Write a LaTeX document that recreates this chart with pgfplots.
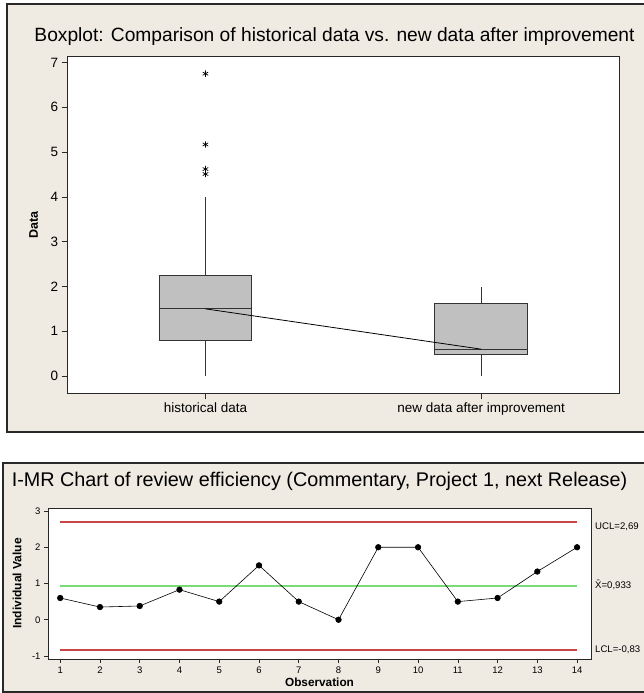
\documentclass[border=0pt]{standalone}
\usepackage{fontspec}
\setmainfont{Liberation Sans}
\usepackage{pgfplots}
\pgfplotsset{compat=1.18}
\usepgfplotslibrary{statistics}
\definecolor{panelbg}{RGB}{239,235,226}
\definecolor{boxfill}{RGB}{192,192,192}
\definecolor{boxline}{RGB}{51,51,51}
\definecolor{uclred}{RGB}{200,70,70}
\definecolor{meangreen}{RGB}{120,220,120}
\definecolor{framegray}{RGB}{40,40,40}
\begin{document}
\begin{tikzpicture}
\path[use as bounding box] (0,0) rectangle (643pt,693pt);
% top panel
\fill[panelbg] (7pt,261pt) rectangle (650pt,689pt);
\draw[framegray, line width=1.2pt] (650pt,261pt) -- (7pt,261pt) -- (7pt,689pt) -- (650pt,689pt);
% bottom panel
\fill[panelbg] (3pt,1pt) rectangle (650pt,230pt);
\draw[framegray, line width=1.5pt] (650pt,1pt) -- (3pt,1pt) -- (3pt,230pt) -- (650pt,230pt);
% titles
\node[anchor=base, font=\fontsize{19.2}{22}\selectfont] at (334.5pt,651pt) {Boxplot: Comparison of historical data vs. new data after improvement};
\node[anchor=base, font=\fontsize{19.8}{23}\selectfont] at (319.5pt,206pt) {I-MR Chart of review efficiency (Commentary, Project 1, next Release)};

\begin{axis}[at={(67.6pt,299.5pt)}, anchor=south west, scale only axis,
  width=551.4pt, height=337pt,
  xmin=0.5, xmax=2.5, ymin=-0.39, ymax=7.134,
  xtick={1,2}, xticklabels={historical data, new data after improvement},
  ytick={0,1,2,3,4,5,6,7},
  tick align=outside, xtick pos=bottom, ytick pos=left, major tick length=6pt,
  tick style={framegray, line width=0.6pt},
  axis line style={framegray, line width=0.8pt},
  axis background/.style={fill=white},
  tick label style={font=\fontsize{13.5}{15}\selectfont},
  /pgf/number format/assume math mode=true,
  ylabel={Data},
  every axis y label/.style={at={(rel axis cs:0,0.5)}, anchor=center, xshift=-34pt, rotate=90, font=\bfseries\fontsize{12.5}{14}\selectfont},
  boxplot/draw direction=y,
  clip=false]
\addplot[boxplot prepared={draw position=1, median=1.5, upper quartile=2.25, lower quartile=0.8, upper whisker=4.0, lower whisker=0, box extend=0.336, whisker extend=0},
  draw=boxline, fill=boxfill, line width=0.9pt, mark=asterisk, mark size=3.2pt, mark options={draw=black, line width=0.7pt}]
  table[row sep=\\, y index=0] {6.75\\ 5.17\\ 4.62\\ 4.51\\};
\addplot[boxplot prepared={draw position=2, median=0.6, upper quartile=1.62, lower quartile=0.48, upper whisker=1.99, lower whisker=0, box extend=0.336, whisker extend=0},
  draw=boxline, fill=boxfill, line width=0.9pt]
  coordinates {};
\addplot[black, line width=0.8pt, mark=none] coordinates {(1,1.5) (2,0.6)};
\end{axis}

\begin{axis}[at={(48pt,34pt)}, anchor=south west, scale only axis,
  width=543pt, height=151pt,
  xmin=0.693, xmax=14.35, ymin=-1.083, ymax=3.083,
  xtick={1,2,3,4,5,6,7,8,9,10,11,12,13,14}, ytick={-1,0,1,2,3},
  tick align=outside, xtick pos=bottom, ytick pos=left, major tick length=4pt,
  tick style={framegray, line width=0.6pt},
  axis line style={framegray, line width=0.8pt},
  axis background/.style={fill=white},
  tick label style={font=\fontsize{9.5}{11}\selectfont},
  /pgf/number format/assume math mode=true,
  xlabel={Observation}, ylabel={Individual Value},
  every axis x label/.style={at={(rel axis cs:0.5,0)}, anchor=center, yshift=-23pt, font=\bfseries\fontsize{11.8}{13}\selectfont},
  every axis y label/.style={at={(rel axis cs:0,0.5)}, anchor=center, xshift=-31pt, rotate=90, font=\bfseries\fontsize{12}{14}\selectfont},
  clip=false]
\addplot[uclred, line width=1.2pt, mark=none] coordinates {(1,2.699) (14,2.699)};
\addplot[uclred, line width=1.2pt, mark=none] coordinates {(1,-0.833) (14,-0.833)};
\addplot[meangreen, line width=2pt, mark=none] coordinates {(1,0.933) (14,0.933)};
\addplot[black, line width=0.6pt, mark=*, mark size=2.8pt, mark options={fill=black}]
  coordinates {(1,0.6) (2,0.35) (3,0.38) (4,0.83) (5,0.5) (6,1.5) (7,0.5) (8,0) (9,2) (10,2) (11,0.5) (12,0.6) (13,1.33) (14,2)};
\end{axis}
\node[anchor=west, inner sep=0pt, font=\fontsize{9.6}{11}\selectfont] at (595pt,166pt) {UCL=2,69};
\node[anchor=west, inner sep=0pt, font=\fontsize{9.6}{11}\selectfont] at (595pt,108pt) {\={X}=0,933};
\node[anchor=west, inner sep=0pt, font=\fontsize{9.6}{11}\selectfont] at (595pt,43.5pt) {LCL=-0,83};
\end{tikzpicture}
\end{document}
